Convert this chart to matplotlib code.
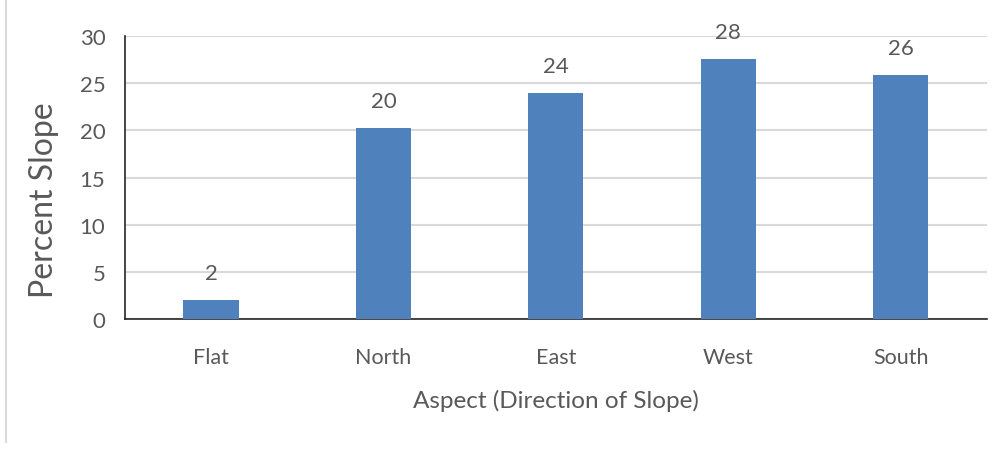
import matplotlib.pyplot as plt
import matplotlib.lines as mlines

# Percent slope by aspect
aspects = ["Flat", "North", "East", "West", "South"]
slope_pct = [2.0, 20.3, 24.0, 27.6, 25.9]

plt.rcParams['font.family'] = ['Lato', 'DejaVu Sans']
gris = '#595959'

fig = plt.figure(figsize=(10.06, 4.52), dpi=100)
ax = fig.add_axes([0.124, 0.292, 0.857, 0.626])

x = range(len(aspects))
barras = ax.bar(x, slope_pct, width=0.32, color='#4F81BD', zorder=3)

for b, v in zip(barras, slope_pct):
    ax.text(b.get_x() + b.get_width() / 2, v + 1.8, f"{v:.0f}",
            ha='center', va='bottom', fontsize=16, color=gris)

ax.set_xlim(-0.5, len(aspects) - 0.5)
ax.set_ylim(0, 30)
ax.set_yticks(range(0, 31, 5))
ax.set_xticks(list(x))
ax.set_xticklabels(aspects)

ax.yaxis.grid(True, color='#D9D9D9', linewidth=1.5, zorder=0)
ax.set_axisbelow(True)

for lado in ['top', 'right']:
    ax.spines[lado].set_visible(False)
ax.spines['left'].set_color('#262626')
ax.spines['bottom'].set_color('#262626')
ax.spines['left'].set_linewidth(1.2)
ax.spines['bottom'].set_linewidth(1.2)

ax.tick_params(axis='x', length=0, labelsize=15.5, colors=gris, pad=20)
ax.tick_params(axis='y', length=0, labelsize=16, colors=gris, pad=14)

ax.set_xlabel('Aspect (Direction of Slope)', fontsize=17.5, color=gris, labelpad=16)
ax.set_ylabel('Percent Slope', fontsize=23, color=gris)
ax.yaxis.set_label_coords(-0.076, 0.425)

# borde gris a la izquierda
fig.add_artist(mlines.Line2D([0.006, 0.006], [0.02, 1.0], color='#D9D9D9', linewidth=1.5))

fig.savefig('out.png', dpi=100)
